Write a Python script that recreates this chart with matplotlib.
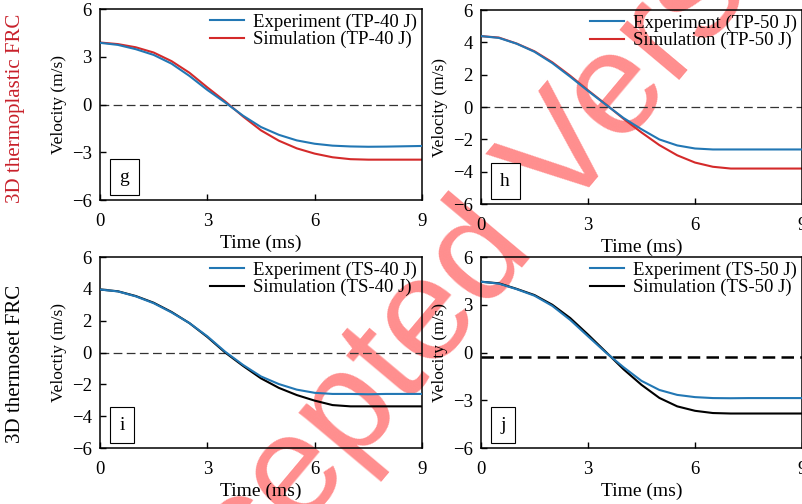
import matplotlib
matplotlib.use('Agg')
import matplotlib.pyplot as plt

# Tiempo (ms), lectura cada 0.5 ms
t = [0, 0.5, 1.0, 1.5, 2.0, 2.5, 3.0, 3.5, 4.0, 4.5, 5.0, 5.5, 6.0, 6.5, 7.0, 7.5, 8.0, 8.5, 9.0]

# g: termoplastico 40 J
exp_tp40 = [3.88, 3.75, 3.48, 3.12, 2.57, 1.80, 0.92, 0.13, -0.70, -1.41, -1.90, -2.25, -2.46, -2.58, -2.63, -2.65, -2.64, -2.62, -2.60]
sim_tp40 = [3.90, 3.80, 3.60, 3.27, 2.73, 2.00, 1.08, 0.20, -0.75, -1.62, -2.27, -2.75, -3.08, -3.31, -3.43, -3.46, -3.46, -3.46, -3.46]

# h: termoplastico 50 J
exp_tp50 = [4.39, 4.28, 3.92, 3.42, 2.72, 1.88, 1.00, 0.15, -0.68, -1.37, -2.00, -2.37, -2.56, -2.62, -2.62, -2.62, -2.62, -2.62, -2.62]
sim_tp50 = [4.39, 4.30, 3.93, 3.45, 2.77, 1.94, 1.04, 0.17, -0.73, -1.57, -2.35, -2.98, -3.43, -3.69, -3.80, -3.80, -3.80, -3.80, -3.80]

# i: termoestable 40 J
exp_ts40 = [3.96, 3.84, 3.53, 3.10, 2.52, 1.85, 1.02, 0.05, -0.78, -1.50, -1.98, -2.33, -2.53, -2.60, -2.60, -2.62, -2.60, -2.60, -2.60]
sim_ts40 = [3.96, 3.85, 3.55, 3.13, 2.55, 1.85, 0.98, 0.00, -0.84, -1.62, -2.22, -2.67, -3.02, -3.30, -3.38, -3.38, -3.38, -3.38, -3.38]

# j: termoestable 50 J
exp_ts50 = [4.45, 4.33, 3.98, 3.57, 2.93, 2.05, 1.02, 0.00, -0.93, -1.78, -2.35, -2.66, -2.80, -2.86, -2.87, -2.86, -2.86, -2.86, -2.86]
sim_ts50 = [4.45, 4.35, 4.00, 3.61, 3.00, 2.17, 1.13, 0.04, -1.06, -2.03, -2.85, -3.38, -3.66, -3.80, -3.83, -3.83, -3.83, -3.83, -3.83]

panel_letters = ['g', 'h', 'i', 'j']
legend_exp = ['Experiment (TP-40 J)', 'Experiment (TP-50 J)', 'Experiment (TS-40 J)', 'Experiment (TS-50 J)']
legend_sim = ['Simulation (TP-40 J)', 'Simulation (TP-50 J)', 'Simulation (TS-40 J)', 'Simulation (TS-50 J)']
ylabels = ['Velocity (m/s)', 'Velocity (m/s)', 'Veloctiy (m/s)', 'Velocity (m/s)']
yticks = [[-6, -3, 0, 3, 6], [-6, -4, -2, 0, 2, 4, 6], [-6, -4, -2, 0, 2, 4, 6], [-6, -3, 0, 3, 6]]
xticks = [0, 3, 6, 9]
ref_level = [0, 0, 0, -0.25]

exp_data = [exp_tp40, exp_tp50, exp_ts40, exp_ts50]
sim_data = [sim_tp40, sim_tp50, sim_ts40, sim_ts50]

blue = '#2277b4'
red = '#d42a2a'
sim_colors = [red, red, 'black', 'black']

plt.rcParams['font.family'] = 'Liberation Serif'

fig = plt.figure(figsize=(8.03, 5.04), dpi=100)

# Marca de agua (por debajo de los ejes)
fig.text(0.6, 0.49, 'Accepted Version', fontsize=106, family='Liberation Sans',
         color='#ff3030', alpha=0.55, rotation=50, ha='center', va='center', zorder=-5)

positions = [
    [0.1245, 0.603, 0.401, 0.379],
    [0.599, 0.595, 0.3998, 0.385],
    [0.1245, 0.111, 0.401, 0.379],
    [0.599, 0.111, 0.3998, 0.379],
]

for k in range(4):
    ax = fig.add_axes(positions[k])
    ax.set_facecolor('none')

    # Linea de referencia discontinua
    if k == 3:
        ax.axhline(ref_level[k], color='black', lw=1.8, dashes=(5, 2.5), zorder=1)
    else:
        ax.axhline(ref_level[k], color='#333333', lw=0.9, dashes=(7, 3.5), zorder=1)

    ax.plot(t, exp_data[k], color=blue, lw=1.5, label=legend_exp[k], zorder=3)
    ax.plot(t, sim_data[k], color=sim_colors[k], lw=1.5, label=legend_sim[k], zorder=2)

    ax.set_xlim(0, 9)
    ax.set_ylim(-6, 6)
    ax.set_xticks(xticks)
    ax.set_yticks(yticks[k])
    ax.tick_params(direction='in', length=4, width=1, labelsize=13.5)
    ax.tick_params(axis='x', pad=9)
    ax.tick_params(axis='y', pad=6)
    for s in ax.spines.values():
        s.set_linewidth(1.1)

    ax.set_xlabel('Time (ms)', fontsize=14, labelpad=4)
    ax.set_ylabel(ylabels[k], fontsize=12.5, labelpad=3)

    ax.legend(loc='upper right', frameon=False, fontsize=13.5, handlelength=1.8,
              handletextpad=0.5, labelspacing=0.0, borderaxespad=0.05, borderpad=0.2)

    ax.text(0.06, 0.075, panel_letters[k], transform=ax.transAxes, fontsize=14,
            ha='left', va='bottom',
            bbox=dict(boxstyle='square,pad=0.5', fc='white', ec='black', lw=0.8))

# Etiquetas de las filas
fig.text(0.019, 0.785, '3D thermoplastic FRC', rotation=90, fontsize=15,
         color='#c8202a', ha='center', va='center')
fig.text(0.019, 0.278, '3D thermoset FRC', rotation=90, fontsize=15,
         color='black', ha='center', va='center')

fig.savefig('out.png', dpi=100)
